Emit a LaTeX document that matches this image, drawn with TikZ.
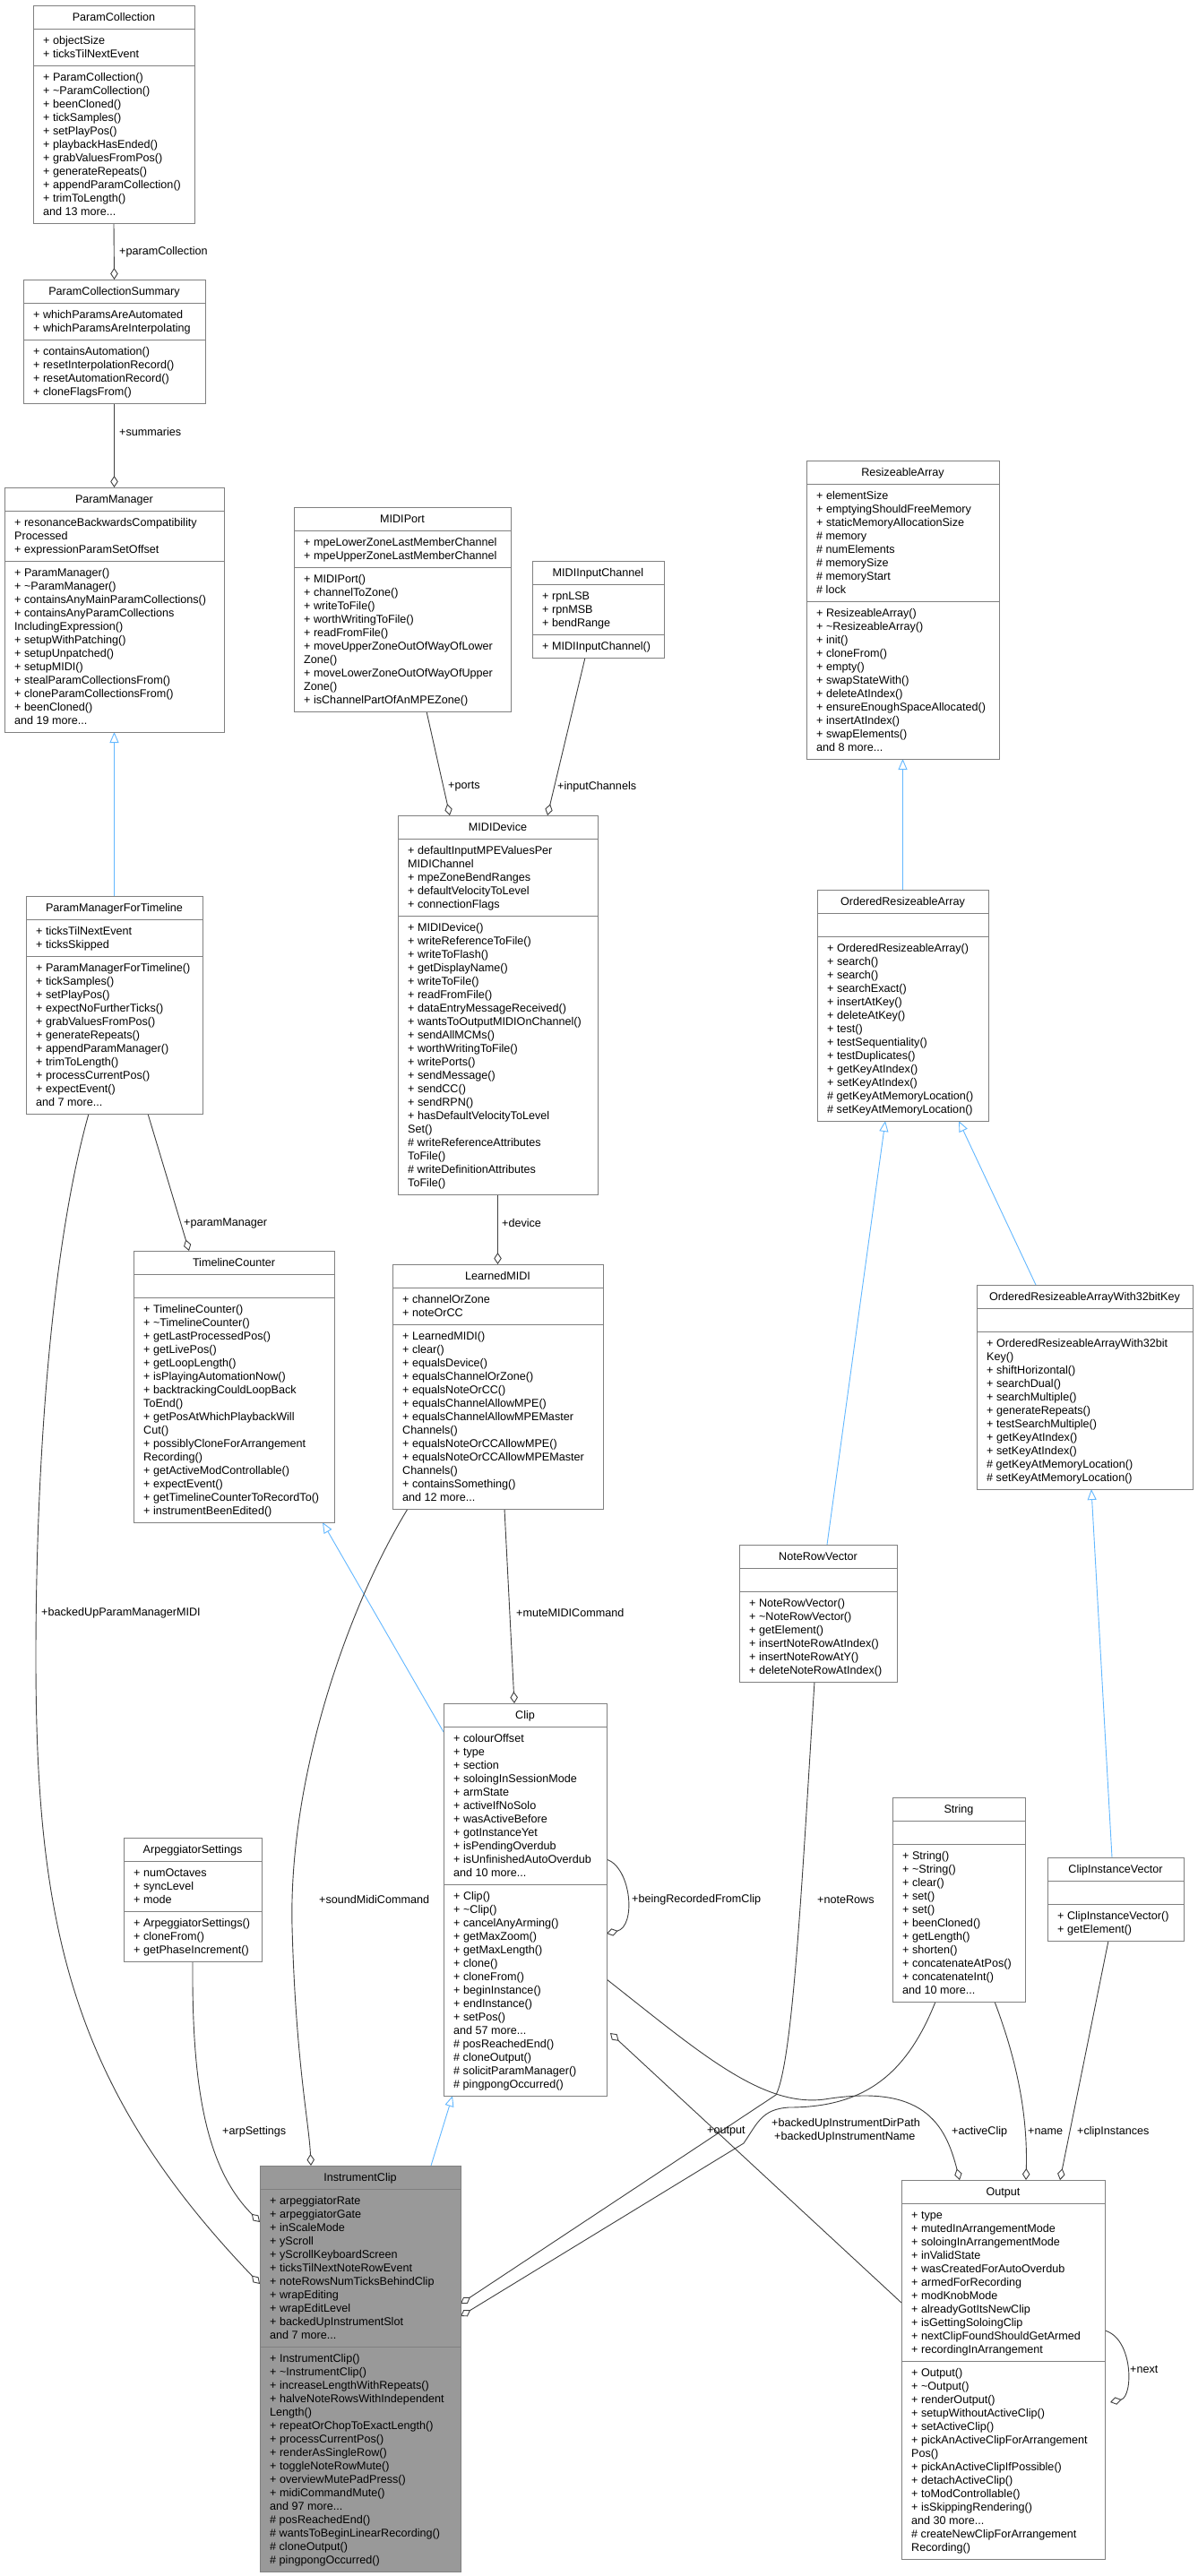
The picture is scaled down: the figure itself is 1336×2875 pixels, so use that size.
\documentclass[tikz,border=0pt]{standalone}
\usepackage{fontspec}
\setmainfont{Liberation Sans}
\usetikzlibrary{arrows.meta,calc}
\pgfdeclarelayer{bg}
\pgfdeclarelayer{paper}
\pgfsetlayers{paper,bg,main}
\definecolor{boxcol}{HTML}{808080}
\definecolor{linecol}{HTML}{404040}
\definecolor{inhcol}{HTML}{63B8FF}
\definecolor{icfill}{HTML}{999999}
\def\umlfill{white}
\newcommand{\uml}[9]{%
 \pgfmathsetmacro\umlSA{#4+26}%
 \pgfmathsetmacro\umlSB{\umlSA+ifthenelse(#6==0,26,15*#6+11)}%
 \pgfmathsetmacro\umlBT{\umlSB+15*#8+11}%
 \pgfmathsetmacro\umlW{#3-#2}%
 \pgfmathsetmacro\umlH{\umlBT-#4}%
 \node[umlbox, fill=\umlfill, minimum width=\umlW pt, minimum height=\umlH pt, anchor=north west] (#1) at (#2,#4) {};
 \draw[boxcol, line width=1pt] (#2,\umlSA) -- (#3,\umlSA) (#2,\umlSB) -- (#3,\umlSB);
 \node[txt, anchor=base] at ({(#2+#3)/2},#4+17.5) {#5};
 \foreach \t [count=\i] in {#7} {\node[txt, anchor=base west] at (#2+11,\umlSA+2.6+15*\i) {\t};}
 \foreach \t [count=\i] in {#9} {\node[txt, anchor=base west] at (#2+11,\umlSB+2.6+15*\i) {\t};}
}
\tikzset{
 umlbox/.style={draw=boxcol, line width=1pt, inner sep=0pt, outer sep=0pt},
 txt/.style={inner sep=0pt, font=\fontsize{12.6}{15}\selectfont},
 lbl/.style={inner sep=0pt, anchor=west, font=\fontsize{12.6}{15}\selectfont},
 agg/.style={draw=linecol, line width=0.9pt, -{Diamond[open,length=13pt,width=8.5pt]}},
 inh/.style={draw=inhcol, line width=0.9pt, -{Triangle[open,length=12pt,width=10pt]}},
}
\def\tl{\textasciitilde}
\def\dd{{.}{.}{.}}
\begin{document}
\begin{tikzpicture}[x=1pt,y=-1pt]
\begin{pgfonlayer}{paper}
\useasboundingbox[fill=white] (0,0) rectangle (1336,2875);
\end{pgfonlayer}

\uml{pc}{37}{217}{6}{ParamCollection}{2}{+ objectSize,+ ticksTilNextEvent}{11}{+ ParamCollection(),+ \tl ParamCollection(),+ beenCloned(),+ tickSamples(),+ setPlayPos(),+ playbackHasEnded(),+ grabValuesFromPos(),+ generateRepeats(),+ appendParamCollection(),+ trimToLength(),and 13 more\dd}
\uml{pcs}{26}{229}{312}{ParamCollectionSummary}{2}{+ whichParamsAreAutomated,+ whichParamsAreInterpolating}{4}{+ containsAutomation(),+ resetInterpolationRecord(),+ resetAutomationRecord(),+ cloneFlagsFrom()}
\uml{pm}{5}{250}{544}{ParamManager}{3}{+ resonanceBackwardsCompatibility,Processed,+ expressionParamSetOffset}{12}{+ ParamManager(),+ \tl ParamManager(),+ containsAnyMainParamCollections(),+ containsAnyParamCollections,IncludingExpression(),+ setupWithPatching(),+ setupUnpatched(),+ setupMIDI(),+ stealParamCollectionsFrom(),+ cloneParamCollectionsFrom(),+ beenCloned(),and 19 more\dd}
\uml{pmft}{29}{226}{1000}{ParamManagerForTimeline}{2}{+ ticksTilNextEvent,+ ticksSkipped}{11}{+ ParamManagerForTimeline(),+ tickSamples(),+ setPlayPos(),+ expectNoFurtherTicks(),+ grabValuesFromPos(),+ generateRepeats(),+ appendParamManager(),+ trimToLength(),+ processCurrentPos(),+ expectEvent(),and 7 more\dd}
\uml{tc}{149}{373}{1396}{TimelineCounter}{0}{}{16}{+ TimelineCounter(),+ \tl TimelineCounter(),+ getLastProcessedPos(),+ getLivePos(),+ getLoopLength(),+ isPlayingAutomationNow(),+ backtrackingCouldLoopBack,ToEnd(),+ getPosAtWhichPlaybackWill,Cut(),+ possiblyCloneForArrangement,Recording(),+ getActiveModControllable(),+ expectEvent(),+ getTimelineCounterToRecordTo(),+ instrumentBeenEdited()}
\uml{mp}{328}{570}{566}{MIDIPort}{2}{+ mpeLowerZoneLastMemberChannel,+ mpeUpperZoneLastMemberChannel}{10}{+ MIDIPort(),+ channelToZone(),+ writeToFile(),+ worthWritingToFile(),+ readFromFile(),+ moveUpperZoneOutOfWayOfLower,Zone(),+ moveLowerZoneOutOfWayOfUpper,Zone(),+ isChannelPartOfAnMPEZone()}
\uml{mic}{594}{741}{626}{MIDIInputChannel}{3}{+ rpnLSB,+ rpnMSB,+ bendRange}{1}{+ MIDIInputChannel()}
\uml{md}{444}{667}{910}{MIDIDevice}{5}{+ defaultInputMPEValuesPer,MIDIChannel,+ mpeZoneBendRanges,+ defaultVelocityToLevel,+ connectionFlags}{20}{+ MIDIDevice(),+ writeReferenceToFile(),+ writeToFlash(),+ getDisplayName(),+ writeToFile(),+ readFromFile(),+ dataEntryMessageReceived(),+ wantsToOutputMIDIOnChannel(),+ sendAllMCMs(),+ worthWritingToFile(),+ writePorts(),+ sendMessage(),+ sendCC(),+ sendRPN(),+ hasDefaultVelocityToLevel,Set(),\# writeReferenceAttributes,ToFile(),\# writeDefinitionAttributes,ToFile()}
\uml{lm}{438}{673}{1411}{LearnedMIDI}{2}{+ channelOrZone,+ noteOrCC}{13}{+ LearnedMIDI(),+ clear(),+ equalsDevice(),+ equalsChannelOrZone(),+ equalsNoteOrCC(),+ equalsChannelAllowMPE(),+ equalsChannelAllowMPEMaster,Channels(),+ equalsNoteOrCCAllowMPE(),+ equalsNoteOrCCAllowMPEMaster,Channels(),+ containsSomething(),and 12 more\dd}
\uml{ra}{900}{1115}{514}{ResizeableArray}{8}{+ elementSize,+ emptyingShouldFreeMemory,+ staticMemoryAllocationSize,\# memory,\# numElements,\# memorySize,\# memoryStart,\# lock}{11}{+ ResizeableArray(),+ \tl ResizeableArray(),+ init(),+ cloneFrom(),+ empty(),+ swapStateWith(),+ deleteAtIndex(),+ ensureEnoughSpaceAllocated(),+ insertAtIndex(),+ swapElements(),and 8 more\dd}
\uml{ora}{912}{1103}{993}{OrderedResizeableArray}{0}{}{13}{+ OrderedResizeableArray(),+ search(),+ search(),+ searchExact(),+ insertAtKey(),+ deleteAtKey(),+ test(),+ testSequentiality(),+ testDuplicates(),+ getKeyAtIndex(),+ setKeyAtIndex(),\# getKeyAtMemoryLocation(),\# setKeyAtMemoryLocation()}
\uml{orak}{1090}{1331}{1434}{OrderedResizeableArrayWith32bitKey}{0}{}{11}{+ OrderedResizeableArrayWith32bit,Key(),+ shiftHorizontal(),+ searchDual(),+ searchMultiple(),+ generateRepeats(),+ testSearchMultiple(),+ getKeyAtIndex(),+ setKeyAtIndex(),\# getKeyAtMemoryLocation(),\# setKeyAtMemoryLocation()}
\uml{nrv}{825}{1001}{1724}{NoteRowVector}{0}{}{6}{+ NoteRowVector(),+ \tl NoteRowVector(),+ getElement(),+ insertNoteRowAtIndex(),+ insertNoteRowAtY(),+ deleteNoteRowAtIndex()}
\uml{clip}{495}{677}{1901}{Clip}{11}{+ colourOffset,+ type,+ section,+ soloingInSessionMode,+ armState,+ activeIfNoSolo,+ wasActiveBefore,+ gotInstanceYet,+ isPendingOverdub,+ isUnfinishedAutoOverdub,and 10 more\dd}{15}{+ Clip(),+ \tl Clip(),+ cancelAnyArming(),+ getMaxZoom(),+ getMaxLength(),+ clone(),+ cloneFrom(),+ beginInstance(),+ endInstance(),+ setPos(),and 57 more\dd,\# posReachedEnd(),\# cloneOutput(),\# solicitParamManager(),\# pingpongOccurred()}
\uml{arp}{138}{292}{2051}{ArpeggiatorSettings}{3}{+ numOctaves,+ syncLevel,+ mode}{3}{+ ArpeggiatorSettings(),+ cloneFrom(),+ getPhaseIncrement()}
\uml{str}{996}{1144}{2006}{String}{0}{}{11}{+ String(),+ \tl String(),+ clear(),+ set(),+ set(),+ beenCloned(),+ getLength(),+ shorten(),+ concatenateAtPos(),+ concatenateInt(),and 10 more\dd}
\uml{civ}{1169}{1321}{2073}{ClipInstanceVector}{0}{}{2}{+ ClipInstanceVector(),+ getElement()}
\def\umlfill{icfill}
\uml{ic}{290}{514}{2417}{InstrumentClip}{11}{+ arpeggiatorRate,+ arpeggiatorGate,+ inScaleMode,+ yScroll,+ yScrollKeyboardScreen,+ ticksTilNextNoteRowEvent,+ noteRowsNumTicksBehindClip,+ wrapEditing,+ wrapEditLevel,+ backedUpInstrumentSlot,and 7 more\dd}{16}{+ InstrumentClip(),+ \tl InstrumentClip(),+ increaseLengthWithRepeats(),+ halveNoteRowsWithIndependent,Length(),+ repeatOrChopToExactLength(),+ processCurrentPos(),+ renderAsSingleRow(),+ toggleNoteRowMute(),+ overviewMutePadPress(),+ midiCommandMute(),and 97 more\dd,\# posReachedEnd(),\# wantsToBeginLinearRecording(),\# cloneOutput(),\# pingpongOccurred()}
\def\umlfill{white}
\uml{out}{1006}{1233}{2433}{Output}{11}{+ type,+ mutedInArrangementMode,+ soloingInArrangementMode,+ inValidState,+ wasCreatedForAutoOverdub,+ armedForRecording,+ modKnobMode,+ alreadyGotItsNewClip,+ isGettingSoloingClip,+ nextClipFoundShouldGetArmed,+ recordingInArrangement}{14}{+ Output(),+ \tl Output(),+ renderOutput(),+ setupWithoutActiveClip(),+ setActiveClip(),+ pickAnActiveClipForArrangement,Pos(),+ pickAnActiveClipIfPossible(),+ detachActiveClip(),+ toModControllable(),+ isSkippingRendering(),and 30 more\dd,\# createNewClipForArrangement,Recording()}

\begin{pgfonlayer}{bg}
% inheritance
\draw[inh] (pmft.north) -- (pm.south);
\draw[inh] (ora.north) -- (ra.south);
\draw[inh] ($(nrv.north west)+(98,0)$) -- ($(ora.south west)+(76,0)$);
\draw[inh] ($(orak.north west)+(66,0)$) -- ($(ora.south west)+(158,0)$);
\draw[inh] ($(civ.north west)+(72,0)$) -- ($(orak.south west)+(128,0)$);
\draw[inh] ($(clip.north west)+(0,32)$) -- ($(tc.south west)+(211,0)$);
\draw[inh] ($(ic.north west)+(191,0)$) -- ($(clip.south west)+(10,0)$);
% aggregations
\draw[agg] (pc.south) -- (pcs.north);
\draw[agg] (pcs.south) -- (pm.north);
\draw[agg] ($(mp.south west)+(148,0)$) -- ($(md.north west)+(58,0)$);
\draw[agg] ($(mic.south west)+(59,0)$) -- ($(md.north west)+(167,0)$);
\draw[agg] (md.south) -- (lm.north);
\draw[agg] ($(pmft.south west)+(136,0)$) -- ($(tc.north west)+(62,0)$);
\draw[agg] ($(lm.south west)+(125,0)$) -- ($(clip.north west)+(79,0)$);
\draw[agg] ($(lm.south west)+(17,0)$) .. controls (390,1790) and (322,1980) .. (326,2150) .. controls (330,2300) and (345,2370) .. ($(ic.north west)+(57,0)$);
\draw[agg] ($(pmft.south west)+(70,0)$) .. controls (55,1400) and (40,1650) .. (40,1850) .. controls (40,2150) and (80,2330) .. ($(ic.north west)+(0,132)$);
\draw[agg] (arp.south) .. controls (214,2330) and (230,2420) .. ($(ic.north west)+(0,63)$);
\draw[agg] ($(clip.north east)+(0,174)$) .. controls (705,2085) and (710,2150) .. ($(clip.north east)+(0,257)$);
\draw[agg] ($(nrv.south west)+(84,0)$) .. controls (895,2100) and (885,2300) .. (866,2338) -- ($(ic.north east)+(0,154)$);
\draw[agg] ($(str.south west)+(48,0)$) .. controls (1010,2320) and (960,2352) .. (880,2352) .. controls (850,2354) and (845,2370) .. (830,2392) -- ($(ic.north east)+(0,168)$);
\draw[agg] ($(clip.north east)+(0,308)$) .. controls (780,2290) and (850,2352) .. (920,2343) .. controls (1030,2325) and (1055,2370) .. ($(out.north west)+(65,0)$);
\draw[agg] ($(out.north west)+(0,137)$) -- ($(clip.north east)+(4,368)$);
\draw[agg] ($(str.south west)+(114,0)$) .. controls (1135,2300) and (1147,2360) .. ($(out.north west)+(139,0)$);
\draw[agg] ($(civ.south west)+(68,0)$) -- ($(out.north west)+(177,0)$);
\draw[agg] ($(out.north east)+(0,168)$) .. controls (1265,2610) and (1265,2675) .. ($(out.north east)+(6,248)$);
\end{pgfonlayer}

% labels
\node[lbl] (l1) at (133,281) {+paramCollection};
\node[lbl] (l2) at (133,482) {+summaries};
\node[lbl] (l3) at (500,878) {+ports};
\node[lbl] (l4) at (622,878) {+inputChannels};
\node[lbl] (l5) at (205,1365) {+paramManager};
\node[lbl] (l6) at (560,1365) {+device};
\node[lbl] (l7) at (46,1800) {+backedUpParamManagerMIDI};
\node[lbl] (l8) at (576,1800) {+muteMIDICommand};
\node[lbl] (l9) at (356,2120) {+soundMidiCommand};
\node[lbl] (l10) at (705,2120) {+beingRecordedFromClip};
\node[lbl] (l11) at (912,2120) {+noteRows};
\node[lbl] (l12) at (248,2379) {+arpSettings};
\node[lbl] (l13) at (789,2379) {+output};
\node[lbl] (l14) at (861,2370) {+backedUpInstrumentDirPath};
\node[lbl] (l15) at (864,2385) {+backedUpInstrumentName};
\node[lbl] (l16) at (1062,2379) {+activeClip};
\node[lbl] (l17) at (1147,2379) {+name};
\node[lbl] (l18) at (1202,2379) {+clipInstances};
\node[lbl] (l19) at (1261,2644) {+next};
\end{tikzpicture}
\end{document}
